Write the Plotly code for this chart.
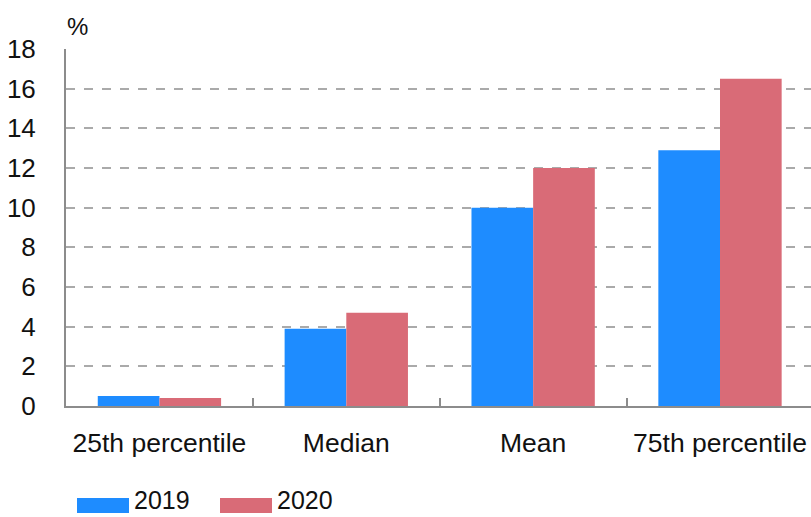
import plotly.graph_objects as go

categories = ["25th percentile", "Median", "Mean", "75th percentile"]
values_2019 = [0.5, 3.9, 10.0, 12.9]
values_2020 = [0.4, 4.7, 12.0, 16.5]
series_names = ["2019", "2020"]
series_colors = ["#1e8cff", "#d96b77"]
y_ticks = [0, 2, 4, 6, 8, 10, 12, 14, 16, 18]

FONT = "Liberation Sans, Arial, Helvetica, sans-serif"

fig = go.Figure()
for name, vals, col in zip(series_names, [values_2019, values_2020], series_colors):
    fig.add_trace(go.Bar(
        x=categories, y=vals, name=name,
        marker=dict(color=col, line=dict(width=0)),
        showlegend=False,
    ))

fig.update_layout(
    width=811, height=517,
    margin=dict(l=66, r=0, t=49, b=111),
    paper_bgcolor="white", plot_bgcolor="white",
    barmode="group", bargap=0.34, bargroupgap=0,
    font=dict(family=FONT, size=26, color="#111111"),
    xaxis=dict(
        range=[-0.5, 3.487],
        showgrid=False,
        showline=True, linecolor="#8c8c8c", linewidth=2,
        ticks="inside", tickson="boundaries", ticklen=8,
        tickcolor="#8c8c8c", tickwidth=2,
        ticklabelstandoff=12,
        tickfont=dict(size=26.5),
    ),
    yaxis=dict(
        range=[0, 18],
        tickvals=y_ticks,
        showgrid=True, gridcolor="#aaaaaa", griddash="dash", gridwidth=2,
        showline=True, linecolor="#8c8c8c", linewidth=2,
        ticks="", zeroline=False,
        ticklabelstandoff=23,
        tickfont=dict(size=26),
    ),
)

# "%" unit label above the value axis
fig.add_annotation(
    text="%", xref="paper", yref="paper", x=0.0, y=1.0,
    xanchor="left", yanchor="bottom", yshift=7, xshift=-1,
    showarrow=False, font=dict(size=24),
)

# Legend drawn as wide swatches with labels below the chart
legend_x = [77, 220]
for i, (name, col) in enumerate(zip(series_names, series_colors)):
    x0 = legend_x[i]
    fig.add_shape(
        type="rect", xref="paper", yref="paper",
        x0=(x0 - 66) / 745, x1=(x0 + 52 - 66) / 745,
        y0=-(513 - 406) / 357, y1=-(498 - 406) / 357,
        fillcolor=col, line=dict(width=0),
    )
    fig.add_annotation(
        text=name, xref="paper", yref="paper",
        x=(x0 + 56 - 66) / 745, y=-(500 - 406) / 357,
        xanchor="left", yanchor="middle", showarrow=False,
        font=dict(size=25), borderpad=0,
    )

fig.write_html("out.html")
